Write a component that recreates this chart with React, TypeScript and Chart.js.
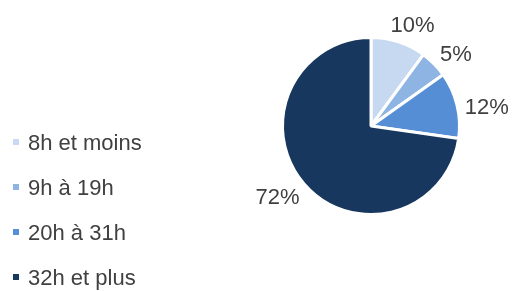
import React, { useEffect, useRef } from "react";
import { Chart, registerables } from "chart.js";

Chart.register(...registerables);

const categories = ["8h et moins", "9h à 19h", "20h à 31h", "32h et plus"];
const values = [10, 5, 12, 72];
const valueLabels = ["10%", "5%", "12%", "72%"];
const colors = ["#C6D9F1", "#8DB4E2", "#558ED5", "#17375E"];

const FONT = '"Liberation Sans", Arial, sans-serif';
const TEXT_COLOR = "#404040";

const outsideLabels = {
  id: "outsideLabels",
  afterDatasetsDraw(chart: any) {
    const ctx = chart.ctx;
    const meta = chart.getDatasetMeta(0);
    ctx.save();
    ctx.font = `22px ${FONT}`;
    ctx.fillStyle = TEXT_COLOR;
    ctx.textAlign = "center";
    ctx.textBaseline = "alphabetic";
    const capH = 16;
    meta.data.forEach((arc: any, i: number) => {
      const { x, y, startAngle, endAngle, outerRadius } = arc.getProps(
        ["x", "y", "startAngle", "endAngle", "outerRadius"],
        true
      );
      const mid = (startAngle + endAngle) / 2 + (4 * Math.PI) / 180;
      const text = valueLabels[i];
      const w = ctx.measureText(text).width;
      const dx = Math.cos(mid);
      const dy = Math.sin(mid);
      const d = outerRadius + 6 + (Math.abs(dx) * w) / 2 + (Math.abs(dy) * capH) / 2;
      ctx.fillText(text, x + dx * d, y + dy * d + capH / 2);
    });
    ctx.restore();
  },
};

export default function App() {
  const canvasRef = useRef<HTMLCanvasElement | null>(null);

  useEffect(() => {
    document.body.style.margin = "0";
    const canvas = canvasRef.current;
    if (!canvas) return;
    const chart = new Chart(canvas, {
      type: "pie",
      data: {
        labels: categories,
        datasets: [
          {
            data: values,
            backgroundColor: colors,
            borderColor: "#FFFFFF",
            borderWidth: 3,
          },
        ],
      },
      options: {
        responsive: false,
        maintainAspectRatio: false,
        animation: false,
        layout: { padding: { top: 36, bottom: 75, left: 281, right: 54 } },
        plugins: {
          legend: { display: false },
          tooltip: { enabled: false },
        },
      },
      plugins: [outsideLabels],
    });
    return () => chart.destroy();
  }, []);

  return (
    <div style={{ position: "relative", width: 515, height: 291, background: "#FFFFFF" }}>
      <canvas ref={canvasRef} width={515} height={291} style={{ position: "absolute", left: 0, top: 0 }} />
      <div style={{ position: "absolute", left: 0, top: 131 }}>
        {categories.map((c, i) => (
          <div key={c} style={{ position: "relative", height: 45, width: 200 }}>
            <span
              style={{
                position: "absolute",
                left: 13,
                top: 8,
                width: 6,
                height: 6,
                background: colors[i],
              }}
            />
            <span
              style={{
                position: "absolute",
                left: 28,
                top: 0,
                fontFamily: FONT,
                fontSize: 22,
                lineHeight: "24px",
                color: TEXT_COLOR,
                whiteSpace: "nowrap",
              }}
            >
              {c}
            </span>
          </div>
        ))}
      </div>
    </div>
  );
}
